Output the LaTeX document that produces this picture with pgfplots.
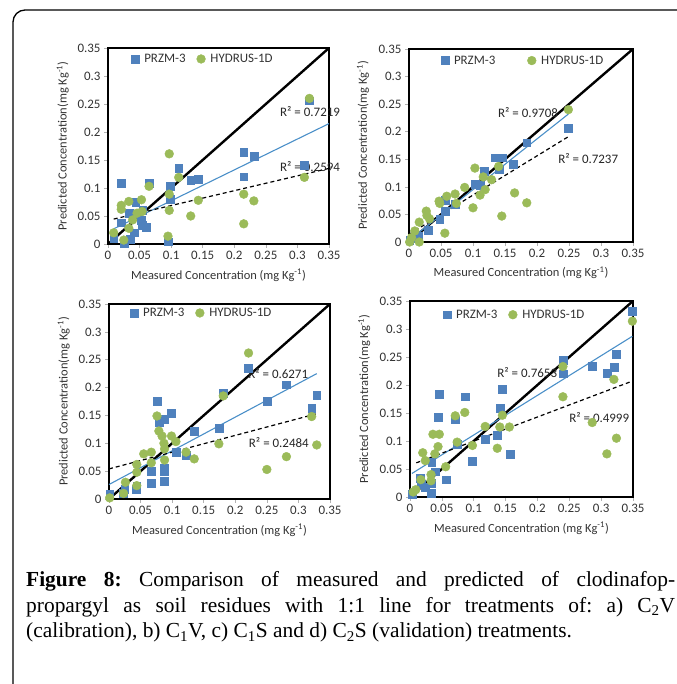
\documentclass[border=0pt]{standalone}
\usepackage{fontspec}
\setmainfont{Carlito}
\newfontfamily\capserif{Liberation Serif}
\usepackage{pgfplots}
\pgfplotsset{compat=1.18}

\definecolor{przm}{HTML}{4F81BD}
\definecolor{hyd}{HTML}{9BBB59}
\definecolor{trend}{HTML}{4A8FC8}

\tikzset{rsq/.style={font=\fontsize{13}{15}\selectfont, text=black!85, inner sep=0pt}}

\pgfplotsset{
  panel/.style={
    scale only axis, clip=false,
    xmin=0, xmax=0.35, ymin=0, ymax=0.35,
    xtick={0,0.05,0.1,0.15,0.2,0.25,0.3,0.35},
    ytick={0,0.05,0.1,0.15,0.2,0.25,0.3,0.35},
    xticklabels={0,0.05,0.1,0.15,0.2,0.25,0.3,0.35},
    yticklabels={0,0.05,0.1,0.15,0.2,0.25,0.3,0.35},
    tick pos=left, tick align=outside, major tick length=4bp,
    tick style={draw=gray!60, line width=0.6bp},
    axis line style={line width=2.2bp},
    ticklabel style={font=\fontsize{13}{15}\selectfont, text=black!80},
    label style={font=\fontsize{12.5}{14}\selectfont, text=black!80},
    xlabel={Measured Concentration (mg Kg\textsuperscript{-1})},
    ylabel={Predicted Concentration(mg Kg\textsuperscript{-1})},
    xlabel style={at={(axis description cs:0.5,-0.16)}, anchor=center},
    ylabel style={at={(axis description cs:-0.205,0.5)}, anchor=center},
    legend columns=2,
    legend cell align=left,
    legend style={draw=none, fill=none, anchor=center, inner sep=0pt,
      font=\fontsize{13}{15}\selectfont, text=black!80,
      /tikz/every odd column/.append style={column sep=3bp}},
  },
  przm/.style={only marks, mark=square*, mark size=3.9bp,
    mark options={draw=przm, fill=przm}},
  hyd/.style={only marks, mark=*, mark size=4.4bp,
    mark options={draw=hyd, fill=hyd}},
  oneone/.style={black, line width=2.4bp, forget plot},
  ptrend/.style={trend, line width=1.1bp, forget plot},
  htrend/.style={black, line width=1.2bp, dash pattern=on 4bp off 3bp, forget plot},
}

\begin{document}
\begin{tikzpicture}
\useasboundingbox (0,0) rectangle (677bp,684bp);
\draw[line width=1.3bp, rounded corners=12bp] (13bp,-20bp) -- (13bp,674bp) -- (700bp,674bp);

% a) C2V
\begin{axis}[panel, at={(108bp,440bp)}, anchor=south west, width=221bp, height=196bp,
  legend style={at={(axis description cs:0.43,0.944)},
    /tikz/every even column/.append style={column sep=9bp}}]
\addplot[przm] coordinates {
(0.009,0.010)(0.021,0.038)(0.021,0.108)(0.026,0.002)(0.033,0.055)(0.035,0.008)
(0.042,0.020)(0.044,0.075)(0.053,0.043)(0.054,0.034)(0.055,0.060)(0.061,0.030)
(0.065,0.108)(0.095,0.004)(0.098,0.103)(0.098,0.080)(0.112,0.135)(0.131,0.114)
(0.143,0.116)(0.215,0.164)(0.215,0.120)(0.231,0.157)(0.311,0.141)(0.319,0.256)};
\addplot[hyd] coordinates {
(0.009,0.020)(0.021,0.069)(0.021,0.062)(0.025,0.007)(0.033,0.076)(0.033,0.028)
(0.039,0.043)(0.046,0.055)(0.053,0.079)(0.054,0.058)(0.065,0.103)(0.095,0.014)
(0.097,0.161)(0.097,0.089)(0.097,0.060)(0.112,0.119)(0.131,0.050)(0.143,0.078)
(0.215,0.089)(0.215,0.036)(0.231,0.077)(0.311,0.119)(0.319,0.260)};
\addplot[oneone] coordinates {(0,0)(0.35,0.35)};
\addplot[ptrend] coordinates {(0.009,0.027)(0.35,0.215)};
\addplot[htrend] coordinates {(0.009,0.0445)(0.35,0.135)};
\legend{PRZM-3,HYDRUS-1D}
\node[rsq] at (axis cs:0.320,0.2357) {R² = 0.7219};
\node[rsq] at (axis cs:0.320,0.139) {R² = 0.2594};
\end{axis}

% b) C1V
\begin{axis}[panel, at={(409bp,442bp)}, anchor=south west, width=224bp, height=193bp,
  legend style={at={(axis description cs:0.51,0.94)},
    /tikz/every even column/.append style={column sep=30bp}}]
\addplot[przm] coordinates {
(0.001,0.003)(0.006,0.006)(0.014,0.010)(0.030,0.022)(0.048,0.041)(0.056,0.076)
(0.057,0.056)(0.072,0.068)(0.103,0.105)(0.111,0.103)(0.118,0.129)(0.134,0.153)
(0.141,0.131)(0.145,0.153)(0.163,0.141)(0.184,0.180)(0.249,0.206)};
\addplot[hyd] coordinates {
(0.001,0.000)(0.004,0.008)(0.009,0.020)(0.016,0.036)(0.016,0.000)(0.027,0.056)
(0.028,0.048)(0.032,0.042)(0.047,0.074)(0.048,0.070)(0.056,0.016)(0.059,0.083)
(0.072,0.087)(0.074,0.070)(0.087,0.099)(0.100,0.062)(0.103,0.134)(0.111,0.085)
(0.116,0.118)(0.119,0.095)(0.129,0.113)(0.140,0.137)(0.145,0.047)(0.165,0.089)
(0.184,0.071)(0.249,0.240)};
\addplot[oneone] coordinates {(0,0)(0.35,0.35)};
\addplot[ptrend] coordinates {(0.001,0.004)(0.249,0.232)};
\addplot[htrend] coordinates {(0.0,0.014)(0.249,0.191)};
\legend{PRZM-3,HYDRUS-1D}
\node[rsq] at (axis cs:0.186,0.234) {R² = 0.9708};
\node[rsq] at (axis cs:0.280,0.1505) {R² = 0.7237};
\end{axis}

% c) C1S
\begin{axis}[panel, at={(109bp,185bp)}, anchor=south west, width=221bp, height=195bp,
  legend style={at={(axis description cs:0.42,0.954)},
    /tikz/every even column/.append style={column sep=9bp}}]
\addplot[przm] coordinates {
(0.001,0.008)(0.023,0.010)(0.025,0.018)(0.043,0.017)(0.044,0.023)(0.067,0.050)
(0.067,0.029)(0.076,0.175)(0.080,0.137)(0.087,0.143)(0.087,0.056)(0.087,0.050)
(0.087,0.032)(0.099,0.154)(0.106,0.084)(0.122,0.079)(0.135,0.122)(0.174,0.127)
(0.181,0.190)(0.221,0.235)(0.250,0.175)(0.281,0.205)(0.321,0.163)(0.329,0.187)};
\addplot[hyd] coordinates {
(0.001,0.002)(0.023,0.010)(0.026,0.030)(0.044,0.062)(0.044,0.048)(0.044,0.024)
(0.055,0.081)(0.067,0.084)(0.067,0.065)(0.076,0.149)(0.079,0.122)(0.084,0.113)
(0.087,0.100)(0.088,0.090)(0.088,0.070)(0.099,0.113)(0.106,0.103)(0.122,0.084)
(0.135,0.072)(0.174,0.099)(0.181,0.185)(0.221,0.262)(0.250,0.053)(0.281,0.076)
(0.321,0.148)(0.329,0.097)};
\addplot[oneone] coordinates {(0,0)(0.35,0.35)};
\addplot[ptrend] coordinates {(0,0.026)(0.329,0.225)};
\addplot[htrend] coordinates {(0,0.054)(0.329,0.153)};
\legend{PRZM-3,HYDRUS-1D}
\node[rsq] at (axis cs:0.268,0.226) {R² = 0.6271};
\node[rsq] at (axis cs:0.269,0.1005) {R² = 0.2484};
\end{axis}

% d) C2S
\begin{axis}[panel, at={(410bp,187bp)}, anchor=south west, width=223bp, height=196bp,
  legend style={at={(axis description cs:0.47,0.93)},
    /tikz/every even column/.append style={column sep=9bp}}]
\addplot[przm] coordinates {
(0.003,0.005)(0.016,0.033)(0.018,0.023)(0.024,0.018)(0.034,0.062)(0.033,0.007)
(0.034,0.024)(0.039,0.045)(0.046,0.183)(0.044,0.142)(0.057,0.031)(0.071,0.138)
(0.074,0.094)(0.086,0.179)(0.098,0.064)(0.118,0.103)(0.137,0.110)(0.141,0.158)
(0.145,0.192)(0.157,0.076)(0.240,0.244)(0.240,0.220)(0.286,0.233)(0.309,0.221)
(0.320,0.232)(0.324,0.255)(0.349,0.332)};
\addplot[hyd] coordinates {
(0.005,0.009)(0.009,0.013)(0.017,0.031)(0.020,0.079)(0.024,0.065)(0.033,0.040)
(0.033,0.029)(0.036,0.112)(0.039,0.077)(0.046,0.112)(0.044,0.090)(0.056,0.054)
(0.071,0.145)(0.074,0.098)(0.086,0.151)(0.098,0.092)(0.118,0.126)(0.137,0.087)
(0.141,0.125)(0.145,0.146)(0.156,0.125)(0.240,0.233)(0.240,0.179)(0.286,0.133)
(0.309,0.077)(0.320,0.210)(0.324,0.105)(0.349,0.314)};
\addplot[oneone] coordinates {(0,0)(0.35,0.35)};
\addplot[ptrend] coordinates {(0.003,0.042)(0.349,0.287)};
\addplot[htrend] coordinates {(0.010,0.061)(0.349,0.207)};
\legend{PRZM-3,HYDRUS-1D}
\node[rsq] at (axis cs:0.184,0.2214) {R² = 0.7653};
\node[rsq] at (axis cs:0.297,0.141) {R² = 0.4999};
\end{axis}

% caption
\begin{scope}[every node/.style={anchor=base west, inner sep=0pt,
    font=\capserif\fontsize{21.5}{25}\selectfont\frenchspacing}]
\node at (26bp,97bp) {\hbox to 649bp{\textbf{Figure 8:} Comparison of measured and predicted of clodinafop-}};
\node at (26bp,71.5bp) {\hbox to 649bp{propargyl as soil residues with 1:1 line for treatments of: a) C\textsubscript{2}V}};
\node at (26bp,46bp) {(calibration), b) C\textsubscript{1}V, c) C\textsubscript{1}S and d) C\textsubscript{2}S (validation) treatments.};
\end{scope}
\end{tikzpicture}
\end{document}
